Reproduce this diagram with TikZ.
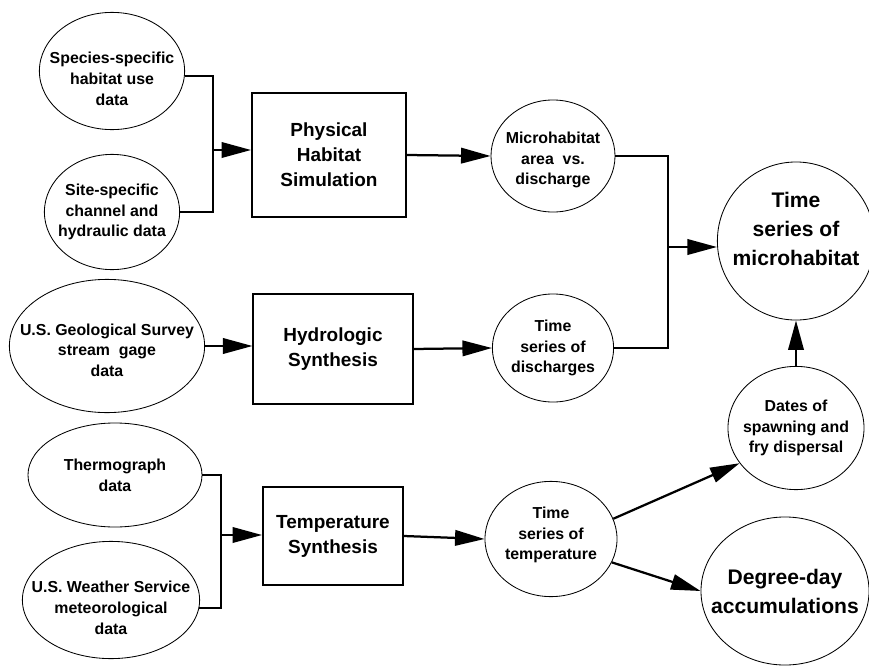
\documentclass[tikz,border=0pt]{standalone}
\usepackage{fontspec}
\setmainfont{Liberation Sans}
\usetikzlibrary{shapes.geometric,arrows.meta}
\begin{document}
\begin{tikzpicture}[x=0.025cm,y=-0.025cm,
  oval/.style={draw,ellipse,line width=0.6pt,inner sep=0pt},
  txt/.style={align=center,inner sep=0pt,font=\bfseries\fontsize{11.3}{14.8}\selectfont},
  bigtxt/.style={align=center,inner sep=0pt,font=\bfseries\fontsize{15}{20.6}\selectfont},
  proc/.style={draw,line width=1.3pt,inner sep=0pt,align=center,font=\bfseries\fontsize{13.5}{17.8}\selectfont},
  link/.style={line width=1.6pt},
  flow/.style={line width=1.6pt,-{Triangle[length=21pt,width=11pt]}}]
\useasboundingbox (0,0) rectangle (869,665);
% inputs
\node[oval,minimum width=3.63cm,minimum height=2.93cm,label={[txt,yshift=-5.5pt]center:Species-specific\\habitat use\\data}] (spec) at (112,71) {};
\node[oval,minimum width=3.38cm,minimum height=2.88cm,label={[txt]center:Site-specific\\channel and\\hydraulic data}] (site) at (112,212) {};
\node[oval,minimum width=4.88cm,minimum height=3.33cm,label={[txt,yshift=-3pt]center:U.S. Geological Survey\\stream\ \ gage\\data}] (usgs) at (107,346) {};
\node[oval,minimum width=4.35cm,minimum height=2.6cm,label={[txt]center:Thermograph\\data}] (thermo) at (115,475) {};
\node[oval,minimum width=4.43cm,minimum height=2.93cm,label={[txt,yshift=-5.5pt]center:U.S. Weather Service\\meteorological\\data}] (weather) at (111,600) {};
% models
\node[proc,minimum width=3.85cm,minimum height=3.08cm] (phys) at (329,155) {Physical\\Habitat\\Simulation};
\node[proc,minimum width=3.98cm,minimum height=2.73cm] (hydro) at (333,349) {Hydrologic\\Synthesis};
\node[proc,minimum width=3.5cm,minimum height=2.43cm] (temp) at (333,536) {Temperature\\Synthesis};
% results
\node[oval,minimum width=3.1cm,minimum height=2.8cm,label={[txt,yshift=-2.8pt]center:Microhabitat\\area\ \ vs.\\discharge}] (micro) at (553,156) {};
\node[oval,minimum width=3.03cm,minimum height=2.7cm,label={[txt]center:Time\\series of\\discharges}] (disch) at (553,348) {};
\node[oval,minimum width=3.3cm,minimum height=2.88cm,label={[txt,yshift=2.8pt]center:Time\\series of\\temperature}] (tstemp) at (551,539) {};
\node[oval,minimum width=3.93cm,minimum height=3.95cm,label={[bigtxt,yshift=8.5pt]center:Time\\series of\\microhabitat}] (tsmicro) at (796,241) {};
\node[oval,minimum width=3.4cm,minimum height=3.08cm,label={[txt]center:Dates of\\spawning and\\fry dispersal}] (dates) at (796,428) {};
\node[oval,minimum width=4.2cm,minimum height=3.7cm,label={[bigtxt]center:Degree-day\\accumulations}] (degree) at (785,591) {};
% junctions
\coordinate (j1) at (213,150);
\coordinate (j2) at (668,247);
\coordinate (j3) at (221,535);
% connectors
\draw[link] (spec.-4) -| (j1) |- (site.east);
\draw[flow] (j1) -- (j1 -| phys.west);
\draw[flow] (phys.east) -- (micro.west);
\draw[flow] (usgs.east) -- (usgs.east -| hydro.west);
\draw[flow] (hydro.east) -- (disch.west);
\draw[link] (micro.east) -| (j2) |- (disch.east);
\draw[flow] (j2) -- (j2 -| tsmicro.west);
\draw[link] (thermo.east) -| (j3) |- (weather.-5);
\draw[flow] (j3) -- (j3 -| temp.west);
\draw[flow] (temp.east) -- (tstemp.west);
\draw[flow] (tstemp.18) -- (dates.212);
\draw[flow] (tstemp.-21) -- (degree.west);
\draw[flow] (dates.north) -- (tsmicro.south);
\end{tikzpicture}
\end{document}
